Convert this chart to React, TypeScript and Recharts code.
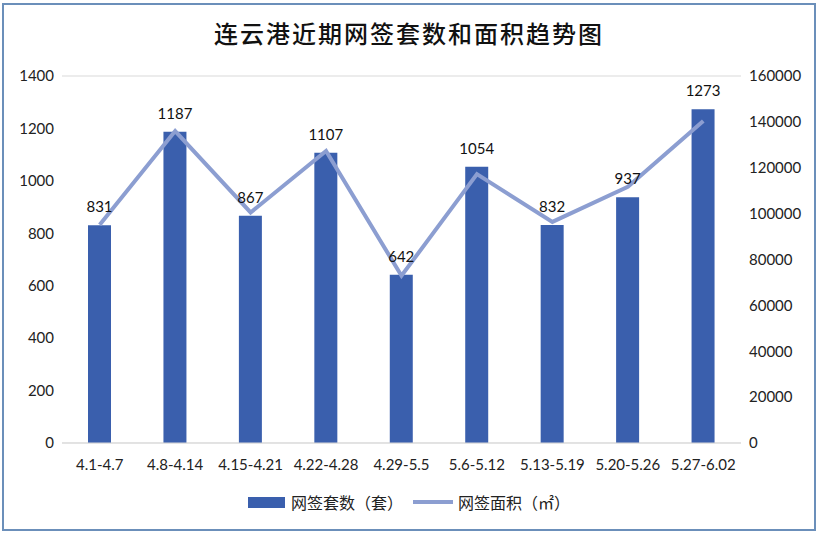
import { Bar, ComposedChart, Line, XAxis, YAxis, CartesianGrid, LabelList } from 'recharts'

const weeks = ['4.1-4.7', '4.8-4.14', '4.15-4.21', '4.22-4.28', '4.29-5.5', '5.6-5.12', '5.13-5.19', '5.20-5.26', '5.27-6.02']
const units = [831, 1187, 867, 1107, 642, 1054, 832, 937, 1273]
const areas = [95100, 136000, 100500, 127300, 72900, 117200, 96400, 111700, 140400]
const leftTicks = [0, 200, 400, 600, 800, 1000, 1200, 1400]
const rightTicks = [0, 20000, 40000, 60000, 80000, 100000, 120000, 140000, 160000]

const BAR = '#3a5fad'
const LINE = '#8c9ed1'
const TICK_FONT = 'Lato, "Noto Sans", sans-serif'
const CJK_FONT = '"Noto Sans CJK SC", sans-serif'

const data = weeks.map((week, i) => ({ week, units: units[i], area: areas[i] }))

export default function App() {
  return (
    <div style={{ position: 'absolute', left: 0, top: 0, width: 818, height: 534, background: '#fff' }}>
      <div
        style={{
          position: 'absolute',
          left: 2,
          top: 3,
          width: 810,
          height: 524,
          border: '2px solid #6b8fba',
        }}
      />
      <div
        style={{
          position: 'absolute',
          left: 0,
          top: 15,
          width: 818,
          textAlign: 'center',
          fontFamily: CJK_FONT,
          fontSize: 24,
          fontWeight: 500,
          letterSpacing: 2,
          color: '#111',
        }}
      >
        连云港近期网签套数和面积趋势图
      </div>
      <div style={{ position: 'absolute', left: 0, top: 0 }}>
        <ComposedChart
          width={818}
          height={534}
          data={data}
          margin={{ top: 76, right: 17, left: 0, bottom: 60 }}
        >
          <CartesianGrid vertical={false} stroke="#d9d9d9" />
          <XAxis
            dataKey="week"
            tickLine={false}
            axisLine={{ stroke: '#d9d9d9' }}
            tick={{ fill: '#222', fontSize: 15, fontFamily: TICK_FONT }}
            tickMargin={10}
            height={31}
            interval={0}
          />
          <YAxis
            yAxisId="left"
            domain={[0, 1400]}
            ticks={leftTicks}
            tickLine={false}
            axisLine={false}
            tick={{ fill: '#222', fontSize: 15, fontFamily: TICK_FONT }}
            width={62}
          />
          <YAxis
            yAxisId="right"
            orientation="right"
            domain={[0, 160000]}
            ticks={rightTicks}
            tickLine={false}
            axisLine={false}
            tick={{ fill: '#222', fontSize: 15, fontFamily: TICK_FONT, textAnchor: 'start' }}
            width={60}
          />
          <Bar yAxisId="left" dataKey="units" fill={BAR} barSize={23} isAnimationActive={false}>
            <LabelList
              dataKey="units"
              position="top"
              offset={13}
              style={{ fill: '#111', fontSize: 15, fontFamily: TICK_FONT }}
            />
          </Bar>
          <Line
            yAxisId="right"
            dataKey="area"
            stroke={LINE}
            strokeWidth={4}
            dot={false}
            activeDot={false}
            isAnimationActive={false}
          />
        </ComposedChart>
      </div>
      <div
        style={{
          position: 'absolute',
          left: 248,
          top: 490,
          display: 'flex',
          alignItems: 'center',
          fontFamily: CJK_FONT,
          fontSize: 16,
          color: '#222',
        }}
      >
        <span style={{ display: 'inline-block', width: 37, height: 11, background: BAR, marginRight: 6 }} />
        <span style={{ marginRight: 10 }}>网签套数（套）</span>
        <span style={{ display: 'inline-block', width: 40, height: 4, background: LINE, marginRight: 5 }} />
        <span>网签面积（㎡）</span>
      </div>
    </div>
  )
}
